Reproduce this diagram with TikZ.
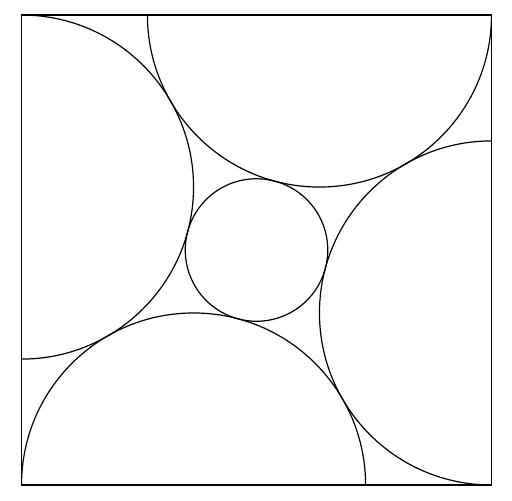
\documentclass[tikz,border=0pt]{standalone}
\begin{document}
\begin{tikzpicture}[x=0.5pt,y=-0.5pt,line width=0.6pt,
  arc/.style={draw=black}]
\useasboundingbox (0,0) rectangle (512,500);
\def\r{172.04}
\def\q{71.25}
\coordinate (tl) at (21.5,15);
\coordinate (br) at (491.5,485);
\coordinate (ct) at (319.46,15);
\coordinate (cl) at (21.5,187.04);
\coordinate (cr) at (491.5,312.96);
\coordinate (cb) at (193.54,485);
\coordinate (cm) at (256.5,250);
\begin{scope}
\clip (tl) rectangle (br);
\draw[arc] (ct) circle[radius=\r*0.5pt];
\draw[arc] (cl) circle[radius=\r*0.5pt];
\draw[arc] (cr) circle[radius=\r*0.5pt];
\draw[arc] (cb) circle[radius=\r*0.5pt];
\end{scope}
\draw[arc] (cm) circle[radius=\q*0.5pt];
\draw (tl) rectangle (br);
\end{tikzpicture}
\end{document}
